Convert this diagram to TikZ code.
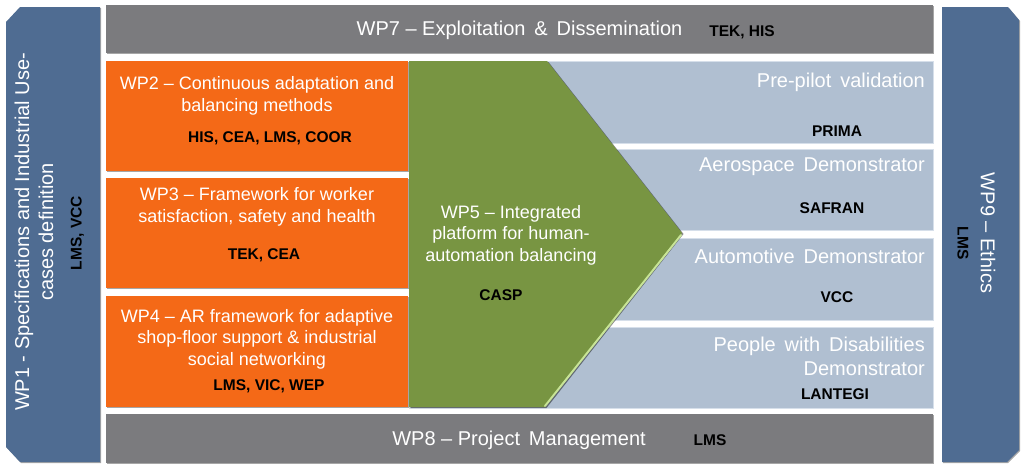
\documentclass[tikz,border=0pt]{standalone}
\usepackage{fontspec}
\setmainfont{Liberation Sans}
\usetikzlibrary{shadows}
\definecolor{wpblue}{RGB}{79,108,146}
\definecolor{wpgray}{RGB}{123,123,126}
\definecolor{wporange}{RGB}{244,105,23}
\definecolor{wpgreen}{RGB}{120,149,66}
\definecolor{wplight}{RGB}{176,191,209}
\definecolor{wplightedge}{RGB}{214,223,234}
\definecolor{wpgreenedge}{RGB}{200,228,150}
\tikzset{
  shd/.style={drop shadow={shadow xshift=1pt,shadow yshift=-1pt,opacity=0.35,fill=black}},
  box/.style={rectangle,inner sep=0pt,outer sep=0pt,shd},
  graybox/.style={box,fill=wpgray},
  orangebox/.style={box,fill=wporange},
  lightbox/.style={box,fill=wplight,draw=wplightedge,line width=1pt},
  wtext/.style={inner sep=0pt,text=white,font=\fontsize{18}{21.5}\selectfont,align=center},
  wbig/.style={inner sep=0pt,text=white,font=\fontsize{20}{24}\selectfont,align=center},
  ptext/.style={inner sep=0pt,text=black,font=\fontsize{15.5}{17}\selectfont\bfseries}
}
\begin{document}
\begin{tikzpicture}[x=1pt,y=-1pt]
\useasboundingbox (0,0) rectangle (1024,469);
% side columns
\fill[wpblue,shd] (20,7) -- (100,7) -- (100,462) -- (20,462) -- (6,447) -- (6,22) -- cycle;
\fill[wpblue,shd] (942,7) -- (1008,7) -- (1019,20) -- (1019,450) -- (1007,462) -- (942,462) -- cycle;
% gray bars
\node[graybox,minimum width=827,minimum height=48] (wp7) at (519.5,29) {};
\node[graybox,minimum width=827,minimum height=49] (wp8) at (519.5,438.5) {};
% light boxes
\node[lightbox,minimum width=524,minimum height=82] (pre) at (671,102) {};
\node[lightbox,minimum width=524,minimum height=81] (aero) at (671,189.5) {};
\node[lightbox,minimum width=524,minimum height=82] (auto) at (671,279) {};
\node[lightbox,minimum width=524,minimum height=81] (pwd) at (671,367.5) {};
% green WP5
\fill[wpgreen,drop shadow={shadow xshift=1.5pt,shadow yshift=-1pt,opacity=0.45,fill=black}] (409,61) -- (547,61) -- (682,233) -- (545,407) -- (409,407) -- cycle;
\draw[wpgreenedge,line width=2pt,line cap=round] (681,235) -- (545,406);
% orange boxes
\node[orangebox,minimum width=302,minimum height=110] (wp2) at (257,116) {};
\node[orangebox,minimum width=302,minimum height=110] (wp3) at (257,233) {};
\node[orangebox,minimum width=302,minimum height=111] (wp4) at (257,351.5) {};
% texts
\node[wbig] (wp7t) at (519.5,30) {WP7 – Exploitation \,\&\, Dissemination};
\node[ptext] (wp7p) at (742,32) {TEK, HIS};
\node[wbig] (wp8t) at (519,440) {WP8 – Project \,Management};
\node[ptext] (wp8p) at (710,440) {LMS};
\node[wtext] (wp2t) at (257,96) {WP2 – Continuous adaptation and\\balancing methods};
\node[ptext] (wp2p) at (270,138) {HIS, CEA, LMS, COOR};
\node[wtext] (wp3t) at (257,207) {WP3 – Framework for worker\\satisfaction, safety and health};
\node[ptext] (wp3p) at (264,255) {TEK, CEA};
\node[wtext] (wp4t) at (257,339) {WP4 – AR framework for adaptive\\shop-floor support \& industrial\\social networking};
\node[ptext] (wp4p) at (269,386) {LMS, VIC, WEP};
\node[wtext] (wp5t) at (511,235) {WP5 – Integrated\\platform for human-\\automation balancing};
\node[ptext] (wp5p) at (501,295) {CASP};
\node[wbig,anchor=east] (pret) at (925,82) {Pre-pilot \,validation};
\node[ptext] (prep) at (837,131) {PRIMA};
\node[wbig,anchor=east] (aerot) at (925,167) {Aerospace \,Demonstrator};
\node[ptext] (aerop) at (832,208) {SAFRAN};
\node[wbig,anchor=east] (autot) at (925,256) {Automotive \,Demonstrator};
\node[ptext] (autop) at (837,297) {VCC};
\node[wbig,anchor=east,align=right] (pwdt) at (925,356) {People \,with \,Disabilities\\Demonstrator};
\node[ptext] (pwdp) at (835,394) {LANTEGI};
\node[wbig,rotate=90] (wp1t) at (34,232) {WP1 - Specifications and Industrial Use-\\cases definition};
\node[ptext,rotate=90] (wp1p) at (77.5,233) {LMS, VCC};
\node[wbig,rotate=-90] (wp9t) at (988,233) {WP9 – Ethics};
\node[ptext,rotate=-90] (wp9p) at (963,243) {LMS};
\end{tikzpicture}
\end{document}
